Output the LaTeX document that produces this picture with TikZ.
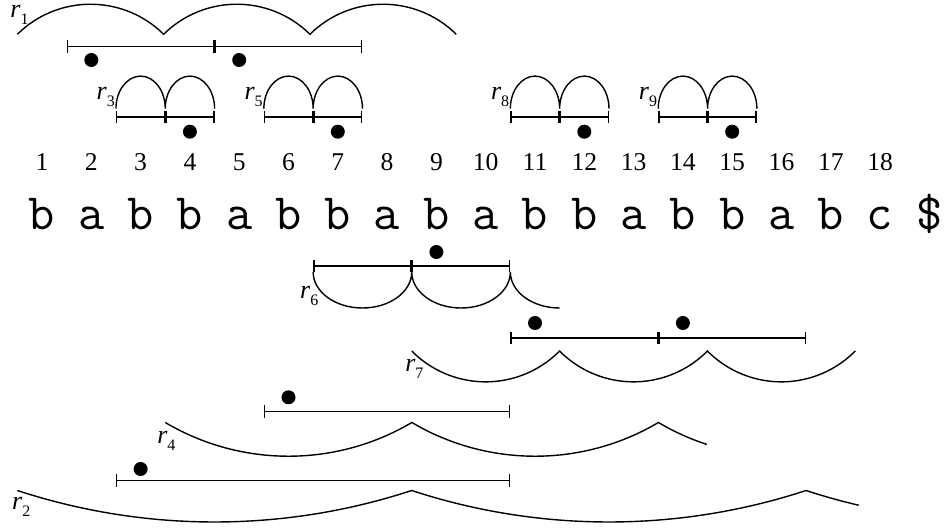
\documentclass[tikz,border=0pt]{standalone}
\usepackage{fontspec}
\setmainfont{Liberation Serif}
\usetikzlibrary{arrows.meta}
\tikzset{
  num/.style    = {anchor=base, inner sep=0pt, font=\fontsize{12.8}{14}\selectfont},
  chr/.style    = {anchor=base, inner sep=0pt, font=\ttfamily\fontsize{25.5}{28}\selectfont},
  runlbl/.style = {anchor=base west, inner sep=0pt, font=\fontsize{13}{15}\selectfont},
  intv/.style   = {{Bar[width=6.3pt]}-{Bar[width=6.3pt]}, line width=0.7pt},
  run/.style    = {line width=0.7pt},
  posdot/.style = {circle, fill=black, inner sep=0pt, minimum size=7pt}
}
\newcommand{\rlabel}[1]{\textit{r}\raisebox{-3.5pt}{\fontsize{8}{9}\selectfont #1}}

\begin{document}
\begin{tikzpicture}[x=24.65pt, y=-0.5pt]
  \useasboundingbox (0.148,0) rectangle (19.337,530);

  % positions and the string
  \foreach \i in {1,...,18}
    \node[num] (n\i) at (\i,170.7) {\i};
  \foreach \c [count=\i] in {b,a,b,b,a,b,b,a,b,a,b,b,a,b,b,a,b,c,\$}
    \node[chr] (s\i) at (\i,230) {\c};

  % r1
  \draw[run] (0.5,34.3) arc[start angle=134.7, end angle=45.3, radius=52pt]
                        arc[start angle=134.7, end angle=45.3, radius=52pt]
                        arc[start angle=134.7, end angle=45.3, radius=52pt];
  \draw[intv] (1.5,46.7) -- (4.5,46.7);
  \draw[intv] (4.5,46.7) -- (7.5,46.7);
  \node[posdot] (p1a) at (2,60) {};
  \node[posdot] (p1b) at (5,60) {};
  \node[runlbl] (l1) at (0.35,17.5) {\rlabel{1}};

  % r3, r5, r8, r9
  \foreach \s/\r in {2.5/3, 5.5/5, 10.5/8, 13.5/9} {
    \draw[run] (\s,108.7) arc[start angle=180, end angle=0, x radius=12.33pt, y radius=16.3pt]
                          arc[start angle=180, end angle=0, x radius=12.33pt, y radius=16.3pt];
    \draw[intv] (\s,117) -- (\s+1,117);
    \draw[intv] (\s+1,117) -- (\s+2,117);
    \node[posdot] (p\r) at (\s+1.5,131.7) {};
    \node[runlbl] (l\r) at (\s-0.4,99) {\rlabel{\r}};
  }

  % r6
  \draw[intv] (6.5,266) -- (8.5,266);
  \draw[intv] (8.5,266) -- (10.5,266);
  \node[posdot] (p6) at (9,252) {};
  \draw[run] (6.5,272) arc[start angle=180, end angle=360, x radius=24.65pt, y radius=18pt]
                       arc[start angle=180, end angle=360, x radius=24.65pt, y radius=18pt]
                       arc[start angle=180, end angle=270, x radius=24.65pt, y radius=18pt];
  \node[runlbl] (l6) at (6.23,298.3) {\rlabel{6}};

  % r7
  \draw[intv] (10.5,338) -- (13.5,338);
  \draw[intv] (13.5,338) -- (16.5,338);
  \node[posdot] (p7a) at (11,323) {};
  \node[posdot] (p7b) at (14,323) {};
  \draw[run] (8.5,351) arc[start angle=224.7, end angle=315.3, radius=52pt]
                       arc[start angle=224.7, end angle=315.3, radius=52pt]
                       arc[start angle=224.7, end angle=315.3, radius=52pt];
  \node[runlbl] (l7) at (8.36,371.7) {\rlabel{7}};

  % r4
  \draw[intv] (5.5,411.7) -- (10.5,411.7);
  \node[posdot] (p4) at (6,397.3) {};
  \draw[run] (3.5,422.5) arc[start angle=239.4, end angle=300.6, radius=121.1pt]
                         arc[start angle=239.4, end angle=300.6, radius=121.1pt]
                         arc[start angle=239.4, end angle=252, radius=121.1pt];
  \node[runlbl] (l4) at (3.33,443.3) {\rlabel{4}};

  % r2
  \draw[intv] (2.5,480.7) -- (10.5,480.7);
  \node[posdot] (p2) at (3,469) {};
  \draw[run] (0.5,490.5) arc[start angle=251.85, end angle=288.15, radius=316.5pt]
                         arc[start angle=251.85, end angle=288.15, radius=316.5pt]
                         arc[start angle=251.85, end angle=256.8, radius=316.5pt];
  \node[runlbl] (l2) at (0.385,510) {\rlabel{2}};
\end{tikzpicture}
\end{document}
